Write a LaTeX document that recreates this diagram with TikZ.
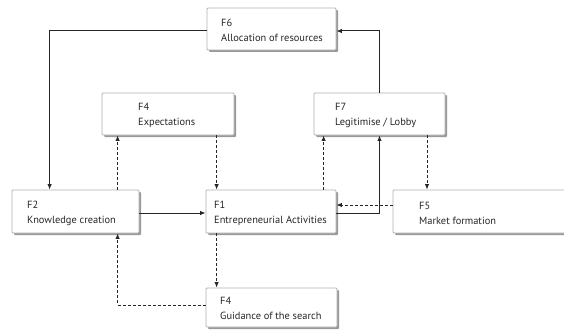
\documentclass[tikz,border=0pt]{standalone}
\usepackage{fontspec}
\setmainfont{PT Sans}
\usetikzlibrary{arrows.meta,shadows}
\tikzset{
  box/.style={draw=gray!60, fill=white, rounded corners=1pt, line width=0.8pt,
    drop shadow={shadow xshift=2pt, shadow yshift=-2pt, fill=gray!80, opacity=1}},
  lbl/.style={anchor=west, align=left, inner sep=0pt, text=black!85,
    font=\fontsize{10.4}{15}\selectfont},
  conn/.style={draw=black!85, line width=1pt, -{Latex[length=5.5pt,width=4.5pt]}},
  dconn/.style={conn, dash pattern=on 3pt off 2pt},
}
\begin{document}
\begin{tikzpicture}[x=1pt,y=-1pt]
\clip (0,0) rectangle (564,329);
\fill[white] (0,0) rectangle (564,329);
% boxes
\node[box, minimum width=129pt, minimum height=42pt] (b6) at (271.5,29) {};
\node[box, minimum width=132pt, minimum height=42pt] (b4e) at (168,114) {};
\node[box, minimum width=131pt, minimum height=42pt] (b7) at (379.5,114) {};
\node[box, minimum width=127pt, minimum height=43pt] (b2) at (75.5,211.5) {};
\node[box, minimum width=130pt, minimum height=43pt] (b1) at (271,211.5) {};
\node[box, minimum width=177pt, minimum height=43pt] (b5) at (481.5,211.5) {};
\node[box, minimum width=131pt, minimum height=39pt] (b4g) at (271.5,307.5) {};
% labels
\node[lbl] (t6) at (221,30.5) {F6\\Allocation of resources};
\node[lbl] (t4e) at (138,115.5) {F4\\Expectations};
\node[lbl] (t7) at (335,115.5) {F7\\Legitimise / Lobby};
\node[lbl] (t2) at (27,213) {F2\\Knowledge creation};
\node[lbl] (t1) at (214,213) {F1\\Entrepreneurial Activities};
\node[lbl] (t5) at (419,213) {F5\\Market formation};
\node[lbl] (t4g) at (220,308.5) {F4\\Guidance of the search};
% connectors
\draw[conn] ([yshift=-2pt]b6.west) -| ([xshift=38pt]b2.north west);
\draw[conn] (b7.north) |- ([yshift=-2pt]b6.east);
\draw[dconn] ([xshift=106pt]b2.north west) -- ([xshift=106pt]b2.north west |- b4e.south);
\draw[dconn] ([xshift=11pt]b1.north west |- b4e.south) -- ([xshift=11pt]b1.north west);
\draw[dconn] ([xshift=118pt]b1.north west) -- ([xshift=118pt]b1.north west |- b7.south);
\draw[conn] ([yshift=-1.5pt]b1.east) -| (b7.south);
\draw[dconn] ([xshift=47.5pt]b7.south) -- ([xshift=47.5pt]b7.south |- b5.north);
\draw[dconn] ([yshift=6.5pt]b5.west) -- ([yshift=6.5pt]b5.west -| b1.east);
\draw[conn] ([yshift=-1.5pt]b2.east) -- ([yshift=-1.5pt]b2.east -| b1.west);
\draw[dconn] ([xshift=11pt]b1.south west) -- ([xshift=11pt]b1.south west |- b4g.north);
\draw[dconn] ([yshift=2.5pt]b4g.west) -| ([xshift=106pt]b2.south west);
\end{tikzpicture}
\end{document}
